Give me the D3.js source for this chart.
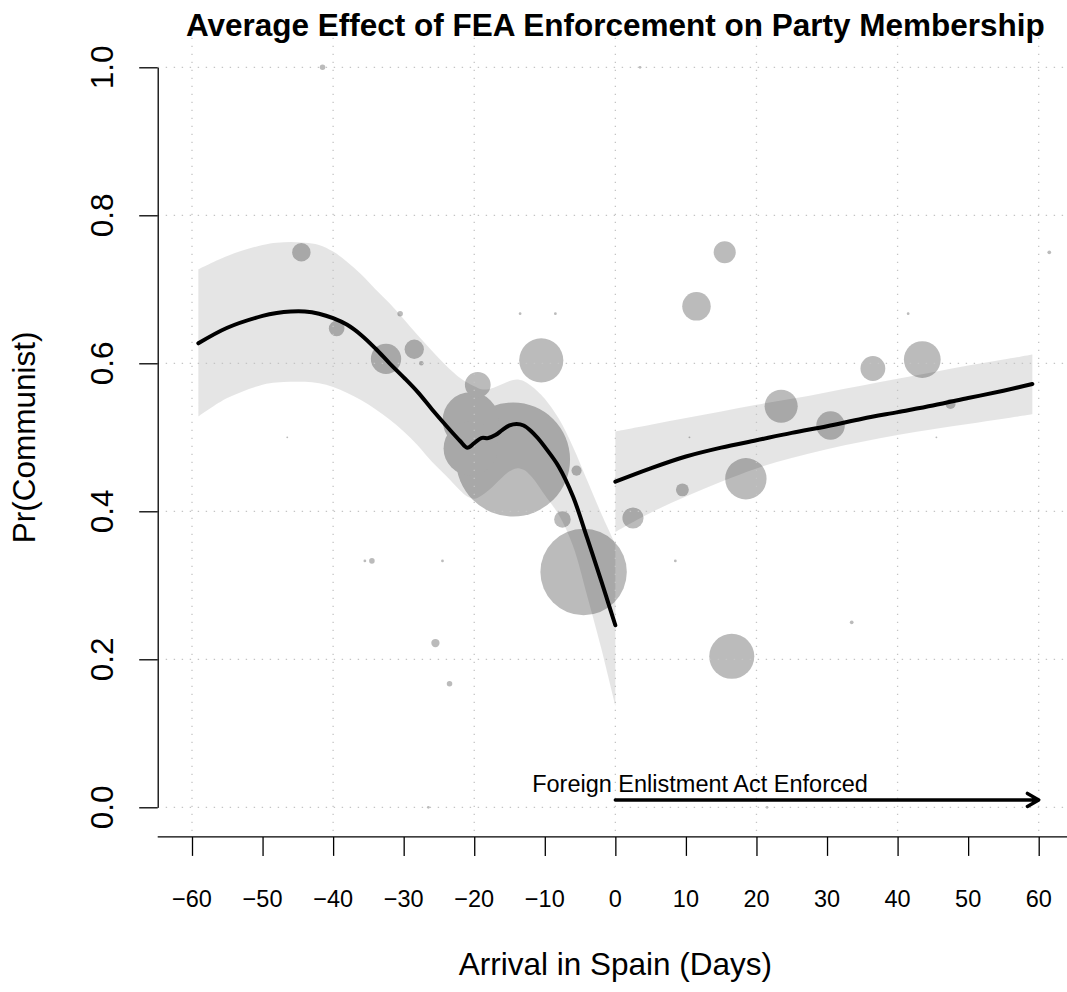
<!DOCTYPE html>
<html>
<head>
<meta charset="utf-8">
<script src="https://cdn.jsdelivr.net/npm/d3@7"></script>
<style>
  body { margin: 0; background: #fff; }
  text { font-family: "Liberation Sans", Arial, Helvetica, sans-serif; fill: #000; }
</style>
</head>
<body>
<svg id="chart" width="1067" height="992"></svg>
<script>
// ---- Arrival-day cohorts: day relative to enforcement, share Communist, number of arrivals
const days     = [-44.5, -41.5, -39.5, -30.5, -32.5, -28.5, -27.5, -46.5, -35.5, -34.5, -25.5, -23.5, -24.5, -26.5,
                  -19.5, -20.5, -20.5, -14.5, -10.5, -13.5, -8.5, -5.5, -7.5, -4.5,
                  2.5, 9.5, 10.5, 8.5, 18.5, 23.5, 30.5, 45.5, 33.5, 16.5, 47.5, 36.5, 43.5, 41.5, 61.5, 15.5, 11.5, 3.5, 21.5];
const share    = [0.750, 1.000, 0.647, 0.667, 0.606, 0.619, 0.600, 0.500, 0.333, 0.333, 0.222, 0.167, 0.333, 0.000,
                  0.571, 0.523, 0.485, 0.470, 0.604, 0.667, 0.667, 0.455, 0.389, 0.318,
                  0.391, 0.429, 0.500, 0.333, 0.444, 0.542, 0.516, 0.500, 0.250, 0.204, 0.545, 0.593, 0.605, 0.667, 0.750, 0.750, 0.677, 1.000, 0.000];
const arrivals = [20, 6, 17, 6, 33, 21, 5, 2, 3, 6, 9, 6, 3, 3,
                  28, 61, 59, 124, 48, 3, 3, 11, 18, 94,
                  23, 14, 2, 3, 45, 36, 31, 2, 4, 49, 11, 27, 40, 3, 4, 24, 31, 3, 3];

// ---- Local fit before enforcement (with confidence band)
const preDays  = [-59.1, -55, -50, -48, -46, -44, -42, -40, -38, -36, -34, -32, -30, -28, -26, -24, -22, -21, -20, -19, -18,
                  -17, -16, -15, -14, -13, -12, -11, -10, -8, -6, -4, -2, -1, 0];
const preFit   = [0.627, 0.648, 0.664, 0.668, 0.670, 0.670, 0.667, 0.661, 0.652, 0.638, 0.620, 0.600, 0.581, 0.561, 0.538, 0.516, 0.495, 0.486, 0.492, 0.499, 0.499,
                  0.503, 0.510, 0.516, 0.518, 0.516, 0.509, 0.499, 0.487, 0.460, 0.420, 0.364, 0.306, 0.276, 0.246];
const preUpper = [0.727, 0.745, 0.760, 0.763, 0.764, 0.763, 0.760, 0.751, 0.737, 0.720, 0.700, 0.681, 0.660, 0.638, 0.617, 0.597, 0.580, 0.574, 0.569, 0.565, 0.565,
                  0.568, 0.572, 0.576, 0.578, 0.576, 0.570, 0.562, 0.552, 0.525, 0.487, 0.442, 0.397, 0.376, 0.355];
const preLower = [0.528, 0.553, 0.571, 0.574, 0.575, 0.575, 0.573, 0.568, 0.560, 0.550, 0.538, 0.524, 0.508, 0.489, 0.467, 0.448, 0.428, 0.420, 0.417, 0.421, 0.428,
                  0.437, 0.446, 0.454, 0.458, 0.456, 0.448, 0.436, 0.422, 0.395, 0.353, 0.286, 0.215, 0.176, 0.137];

// ---- Local fit after enforcement
const postDays  = [0, 5, 10, 15, 20, 25, 30, 35, 40, 45, 50, 55, 59.1];
const postFit   = [0.440, 0.458, 0.474, 0.486, 0.496, 0.506, 0.515, 0.525, 0.534, 0.543, 0.553, 0.563, 0.572];
const postUpper = [0.508, 0.517, 0.526, 0.535, 0.544, 0.552, 0.561, 0.570, 0.579, 0.588, 0.597, 0.605, 0.612];
const postLower = [0.372, 0.398, 0.420, 0.440, 0.458, 0.472, 0.484, 0.494, 0.503, 0.511, 0.518, 0.525, 0.531];

// ---- Axes, grid and annotation values
const xTicks = [-60, -50, -40, -30, -20, -10, 0, 10, 20, 30, 40, 50, 60];
const yTicks = [0, 0.2, 0.4, 0.6, 0.8, 1.0];
const xGrid  = [-60, -40, -20, 0, 20, 40, 60];
const yGrid  = [0, 0.2, 0.4, 0.6, 0.8, 1.0];
const xLim = [-64.86, 64.86];
const yLim = [-0.04, 1.04];
const enforcement = { start: 0, end: 60, level: 0.01, labelX: 12, labelY: 0.03,
                      label: "Foreign Enlistment Act Enforced" };

const titleText = "Average Effect of FEA Enforcement on Party Membership";
const xTitle = "Arrival in Spain (Days)";
const yTitle = "Pr(Communist)";

// ---- Scales
const x = d3.scaleLinear().domain([-60, 60]).range([192, 1038.7]);
const y = d3.scaleLinear().domain([0, 1]).range([807.3, 67.3]);
const r = d3.scaleLinear().domain([0, 124]).range([0, 57]);
const smooth = d3.curveCatmullRom.alpha(0.5);

const svg = d3.select("#chart");
svg.append("rect").attr("width", 1067).attr("height", 992).attr("fill", "#fff");

const plotLeft = x(xLim[0]), plotRight = x(xLim[1]);
const plotTop = y(yLim[1]), plotBottom = y(yLim[0]);

// ---- Cohort bubbles
const pts = days.map((d, i) => ({ d, s: share[i], n: arrivals[i] }))
  .sort((a, b) => b.n - a.n);
svg.append("g").selectAll("circle").data(pts).join("circle")
  .attr("cx", p => x(p.d))
  .attr("cy", p => y(p.s))
  .attr("r", p => r(p.n))
  .attr("fill", "#bbbbbb");

// ---- Confidence bands
const band = (xs, lo, hi) => d3.area()
  .x((_, i) => x(xs[i]))
  .y0((_, i) => y(lo[i]))
  .y1((_, i) => y(hi[i]))
  .curve(smooth)(xs);
svg.append("path").attr("d", band(preDays, preLower, preUpper))
  .attr("fill", "#000").attr("fill-opacity", 0.1);
svg.append("path").attr("d", band(postDays, postLower, postUpper))
  .attr("fill", "#000").attr("fill-opacity", 0.1);

// ---- Dotted grid
const grid = svg.append("g").attr("stroke", "#c4c4c4").attr("stroke-width", 1.3)
  .attr("stroke-dasharray", "1.4 6.6").attr("fill", "none");
grid.selectAll("line.v").data(xGrid).join("line").attr("class", "v")
  .attr("x1", d => x(d)).attr("x2", d => x(d))
  .attr("y1", plotTop).attr("y2", plotBottom);
grid.selectAll("line.h").data(yGrid).join("line").attr("class", "h")
  .attr("x1", plotLeft).attr("x2", plotRight)
  .attr("y1", d => y(d)).attr("y2", d => y(d));

// ---- Fitted curves
const fitLine = (xs, ys) => d3.line()
  .x((_, i) => x(xs[i]))
  .y((_, i) => y(ys[i]))
  .curve(smooth)(xs);
svg.append("path").attr("d", fitLine(preDays, preFit))
  .attr("fill", "none").attr("stroke", "#000").attr("stroke-width", 4)
  .attr("stroke-linecap", "round").attr("stroke-linejoin", "round");
svg.append("path").attr("d", fitLine(postDays, postFit))
  .attr("fill", "none").attr("stroke", "#000").attr("stroke-width", 4)
  .attr("stroke-linecap", "round").attr("stroke-linejoin", "round");

// ---- Enforcement arrow and label
const ay = y(enforcement.level), tip = x(enforcement.end);
const head = 13, ang = Math.PI / 6;
svg.append("path")
  .attr("d", `M${x(enforcement.start)},${ay}L${tip},${ay}` +
             `M${tip - head * Math.cos(ang)},${ay - head * Math.sin(ang)}L${tip},${ay}` +
             `L${tip - head * Math.cos(ang)},${ay + head * Math.sin(ang)}`)
  .attr("fill", "none").attr("stroke", "#000").attr("stroke-width", 3.5)
  .attr("stroke-linecap", "round").attr("stroke-linejoin", "round");
svg.append("text")
  .attr("x", x(enforcement.labelX)).attr("y", y(enforcement.labelY) + 6.4)
  .attr("text-anchor", "middle").attr("font-size", "23.5px")
  .text(enforcement.label);

// ---- Y axis
const yAxis = svg.append("g").attr("transform", `translate(${plotLeft},0)`)
  .call(d3.axisLeft(y).tickValues(yTicks).tickSize(18.5).tickSizeOuter(0).tickFormat(""));
yAxis.selectAll("path, line").attr("stroke", "#000").attr("stroke-width", 1.3);
svg.append("g").selectAll("text").data(yTicks).join("text")
  .attr("transform", d => `translate(113,${y(d)}) rotate(-90)`)
  .attr("text-anchor", "middle").attr("font-size", "31.5px")
  .text(d3.format(".1f"));

// ---- X axis
const xAxis = svg.append("g").attr("transform", `translate(0,${plotBottom})`)
  .call(d3.axisBottom(x).tickValues(xTicks).tickSize(19).tickSizeOuter(0).tickFormat(""));
xAxis.select(".domain").remove();
xAxis.append("line").attr("x1", plotLeft).attr("x2", plotRight).attr("y1", 0).attr("y2", 0);
xAxis.selectAll("line").attr("stroke", "#000").attr("stroke-width", 1.3);
svg.append("g").selectAll("text").data(xTicks).join("text")
  .attr("x", d => x(d)).attr("y", 906.7)
  .attr("text-anchor", "middle").attr("font-size", "23.5px")
  .text(d3.format("d"));

// ---- Titles
const midX = (plotLeft + plotRight) / 2, midY = (plotTop + plotBottom) / 2;
svg.append("text").attr("x", midX).attr("y", 36)
  .attr("text-anchor", "middle").attr("font-size", "31.5px").attr("font-weight", "bold")
  .text(titleText);
svg.append("text").attr("x", midX).attr("y", 975)
  .attr("text-anchor", "middle").attr("font-size", "31.5px")
  .text(xTitle);
svg.append("text").attr("transform", `translate(35,${midY}) rotate(-90)`)
  .attr("text-anchor", "middle").attr("font-size", "31.5px")
  .text(yTitle);
</script>
</body>
</html>
